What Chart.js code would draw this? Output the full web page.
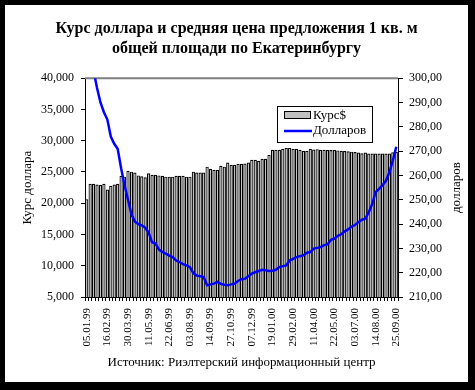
<!DOCTYPE html>
<html>
<head>
<meta charset="utf-8">
<script src="https://cdn.jsdelivr.net/npm/chart.js@4"></script>
<style>
  html, body { margin: 0; padding: 0; background: #000; }
</style>
</head>
<body>
<canvas id="kursChart" width="475" height="390"></canvas>
<script>
// даты подписей по оси X (каждая 6-я неделя)
const tickDates = ['05.01.99', '16.02.99', '30.03.99', '11.05.99', '22.06.99', '03.08.99', '14.09.99', '27.10.99',
  '07.12.99', '19.01.00', '29.02.00', '11.04.00', '22.05.00', '03.07.00', '14.08.00', '25.09.00'];

// курс доллара (левая ось), по неделям
const kurs = [
  20650, 23100, 23100, 23000, 22900, 23100, 22200, 22800, 23000, 23100,
  24400, 24250, 25200, 25050, 24900, 24450, 24300, 24150, 24800, 24550,
  24550, 24450, 24400, 24250, 24250, 24250, 24400, 24400, 24400, 24250,
  24250, 25050, 24900, 24900, 24900, 25850, 25500, 25350, 25350, 26000,
  25850, 26500, 26150, 26150, 26300, 26300, 26350, 26500, 26950, 26950,
  26800, 27100, 27100, 27750, 28550, 28550, 28550, 28700, 28850, 28850,
  28700, 28700, 28550, 28400, 28400, 28700, 28600, 28650, 28550, 28550,
  28500, 28500, 28500, 28450, 28400, 28350, 28300, 28250, 28200, 28100,
  28000, 28100, 27950, 27950, 27950, 27950, 27950, 27950, 27950, 28150,
  28200
];

// средняя цена 1 кв. м в долларах (правая ось)
const dollars = [
  315, 311, 303, 296, 290, 286, 283, 276, 273, 271,
  263, 256, 250, 244, 241, 240, 239.5, 238.5, 236.5, 232.5,
  232, 229.5, 228.5, 227.8, 227, 226.4, 225, 224.4, 223.5, 223,
  222.3, 219.8, 218.8, 218.5, 218.2, 214.8, 215.2, 215.5, 216.2, 215.4,
  215, 214.8, 215.2, 215.5, 216.6, 217.3, 217.5, 218.5, 219.6, 220.2,
  220.7, 221.2, 221, 220.7, 220.8, 221.2, 222.3, 222.7, 223, 225,
  225.7, 226.4, 226.8, 227.1, 228.2, 228.5, 229.9, 230.2, 230.5, 231.3,
  231.6, 233.5, 234, 235.2, 235.8, 237, 237.8, 239, 239.6, 240.8,
  241.8, 242.2, 244.9, 248.3, 253.1, 254.5, 256, 257.8, 261.3, 266.1,
  271.8
];

const categories = kurs.map((v, i) => (i % 6 === 0 ? tickDates[i / 6] : ''));

Chart.defaults.font.family = "'Liberation Serif', 'Times New Roman', serif";
Chart.defaults.color = '#000';

// рамка, верхняя граница области, легенда и подпись правой оси
const decor = {
  id: 'decor',
  beforeDraw(chart) {
    const ctx = chart.ctx;
    ctx.save();
    ctx.fillStyle = '#000';
    ctx.fillRect(0, 0, chart.width, chart.height);
    ctx.fillStyle = '#fff';
    ctx.fillRect(5, 5, 463, 377);
    ctx.restore();
  },
  beforeDatasetsDraw(chart) {
    const { ctx, chartArea: a } = chart;
    ctx.save();
    ctx.strokeStyle = '#808080';
    ctx.lineWidth = 2;
    ctx.beginPath();
    ctx.moveTo(a.left, a.top);
    ctx.lineTo(a.right, a.top);
    ctx.stroke();
    ctx.restore();
  },
  afterDraw(chart) {
    const { ctx, chartArea: a } = chart;
    const ds = chart.data.datasets;
    ctx.save();
    // легенда
    ctx.fillStyle = '#fff';
    ctx.fillRect(277.5, 106.5, 95, 36);
    ctx.strokeStyle = '#000';
    ctx.lineWidth = 1;
    ctx.strokeRect(277.5, 106.5, 95, 36);
    ctx.fillStyle = '#c0c0c0';
    ctx.fillRect(284.5, 111.5, 26, 7);
    ctx.strokeRect(284.5, 111.5, 26, 7);
    ctx.strokeStyle = '#0000ff';
    ctx.lineWidth = 2.5;
    ctx.beginPath();
    ctx.moveTo(284, 131);
    ctx.lineTo(312, 131);
    ctx.stroke();
    ctx.fillStyle = '#000';
    ctx.font = "13px 'Liberation Serif', serif";
    ctx.textBaseline = 'middle';
    ctx.textAlign = 'left';
    ctx.fillText(ds[1].label, 313, 115.5);
    ctx.fillText(ds[0].label, 313, 131);
    // подпись правой оси
    ctx.translate(457, (a.top + a.bottom) / 2);
    ctx.rotate(-Math.PI / 2);
    ctx.textAlign = 'center';
    ctx.fillText('долларов', 0, 0);
    ctx.restore();
  }
};

new Chart(document.getElementById('kursChart').getContext('2d'), {
  type: 'bar',
  data: {
    labels: categories,
    datasets: [{
      type: 'line',
      label: 'Долларов',
      data: dollars,
      yAxisID: 'y1',
      borderColor: '#0000ff',
      borderWidth: 2.5,
      pointRadius: 0,
      tension: 0,
      order: 0
    }, {
      type: 'bar',
      label: 'Курс$',
      data: kurs,
      yAxisID: 'y',
      backgroundColor: '#c0c0c0',
      borderColor: '#000',
      borderWidth: 1.2,
      barPercentage: 0.94,
      categoryPercentage: 1,
      order: 1
    }]
  },
  options: {
    responsive: false,
    animation: false,
    layout: { padding: { top: 5, left: 5, right: 7, bottom: 13 } },
    plugins: {
      legend: { display: false },
      tooltip: { enabled: false },
      title: {
        display: true,
        text: ['Курс доллара и средняя цена предложения 1 кв. м', 'общей площади по Екатеринбургу'],
        font: { size: 16, weight: 'bold', lineHeight: 1.3 },
        padding: { top: 13, bottom: 18.6 }
      }
    },
    scales: {
      x: {
        grid: { drawOnChartArea: false, tickLength: 4, color: '#000' },
        border: { color: '#000' },
        ticks: { autoSkip: false, maxRotation: 90, minRotation: 90, padding: 7, font: { size: 11 } },
        title: {
          display: true,
          text: 'Источник: Риэлтерский информационный центр',
          font: { size: 13 },
          padding: { top: 0, bottom: 7 }
        },
        afterFit: s => { s.height = 80; }
      },
      y: {
        position: 'left',
        min: 5000,
        max: 40000,
        ticks: { stepSize: 5000, padding: 7, font: { size: 12 }, callback: v => v.toLocaleString('en-US') },
        grid: { drawOnChartArea: false, tickLength: 4, color: '#000' },
        border: { color: '#000' },
        title: { display: true, text: 'Курс доллара', font: { size: 13 }, padding: { top: 15 } },
        afterFit: s => { s.width = 80; }
      },
      y1: {
        position: 'right',
        min: 210,
        max: 300,
        ticks: { stepSize: 10, padding: 6, font: { size: 12 }, callback: v => v.toFixed(2).replace('.', ',') },
        grid: { drawOnChartArea: false, tickLength: 5, color: '#000' },
        border: { color: '#000' },
        afterFit: s => { s.width = 70; }
      }
    }
  },
  plugins: [decor]
});
</script>
</body>
</html>
